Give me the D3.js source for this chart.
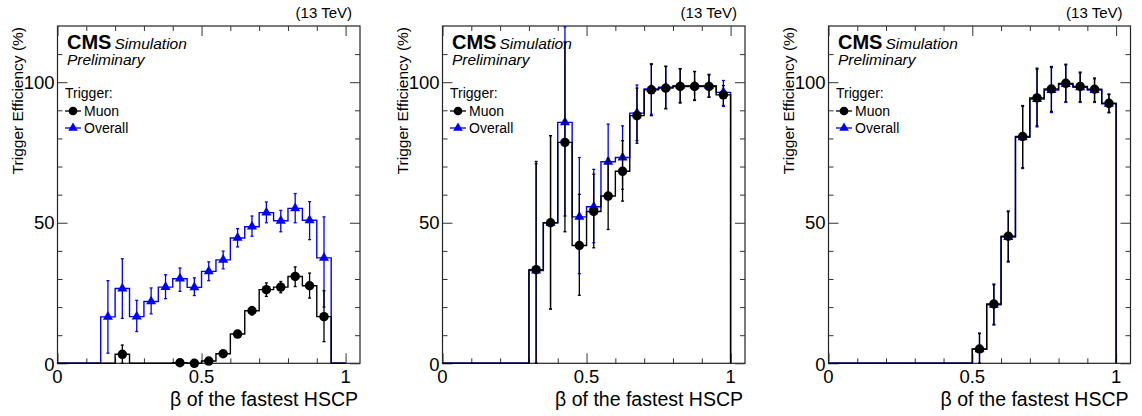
<!DOCTYPE html>
<html>
<head>
<meta charset="utf-8">
<script src="https://cdn.jsdelivr.net/npm/d3@7"></script>
<style>
  body { margin: 0; background: #fff; }
  text { font-family: "Liberation Sans", Arial, Helvetica, sans-serif; }
</style>
</head>
<body>
<script>
// bin edges (width 0.05) and centres
var binEdges = [0, 0.05, 0.1, 0.15, 0.2, 0.25, 0.3, 0.35, 0.4, 0.45, 0.5,
                0.55, 0.6, 0.65, 0.7, 0.75, 0.8, 0.85, 0.9, 0.95, 1.0];
var binCenters = [0.025, 0.075, 0.125, 0.175, 0.225, 0.275, 0.325, 0.375, 0.425, 0.475,
                  0.525, 0.575, 0.625, 0.675, 0.725, 0.775, 0.825, 0.875, 0.925, 0.975];

var xTicksMajor = [0, 0.5, 1];
var yTicksMajor = [0, 50, 100];

// panel 1
var muon1     = [null, null, null, null, 3.2, null, null, null, 0.2, 0, 0.8, 3.4, 10.4, 18.7, 26.2, 27.1, 30.9, 27.6, 16.6, null];
var muon1Up   = [0, 0, 0, 0, 3.3, 0, 0, 0, 0.5, 0.4, 0.8, 1.0, 1.2, 1.5, 2.4, 2.0, 3.4, 4.5, 9.2, 0];
var muon1Dn   = [0, 0, 0, 0, 3.2, 0, 0, 0, 0.2, 0, 0.8, 1.0, 1.2, 1.5, 2.4, 2.0, 3.6, 4.4, 8.9, 0];
var overall1  = [null, null, null, 16.5, 26.6, 16.6, 22, 27.1, 30.1, 27, 32.7, 36.8, 44.6, 48.6, 53.6, 50.7, 55.1, 50.9, 37.5, null];
var overall1Up = [0, 0, 0, 12.9, 10.6, 5.8, 4.8, 4.4, 3.8, 3.4, 3.4, 3.1, 3.3, 3.8, 3.8, 3.7, 5.3, 6.6, 14.6, 0];
var overall1Dn = [0, 0, 0, 12.9, 10.6, 5.3, 4.4, 4.1, 4.5, 2.9, 3.3, 3.2, 3.2, 3.4, 3.6, 3.9, 5.1, 6.9, 17.5, 0];

// panel 2
var muon2     = [null, null, null, null, null, null, 33.3, 50, 78.6, 41.9, 54, 59.5, 68.3, 88.1, 97.3, 97.9, 98.5, 98.5, 98.5, 95.5];
var muon2Up   = [0, 0, 0, 0, 0, 0, 38.5, 31, 35.7, 18.2, 13.3, 13.4, 10.9, 9.8, 9.0, 7.7, 6.3, 5.3, 4.1, 3.3];
var muon2Dn   = [0, 0, 0, 0, 0, 0, 33.3, 30.7, 31.8, 17.7, 12.9, 11.9, 10.6, 9.8, 9.2, 7.4, 5.9, 5.0, 3.9, 3.8];
var overall2  = [null, null, null, null, null, null, 33, 50, 85.7, 52.1, 55.7, 71.7, 73.2, 89, 97.6, 98.2, 98.8, 98.8, 98.8, 96.4];
var overall2Up = [0, 0, 0, 0, 0, 0, 38, 31, 34, 21.1, 13.3, 13.4, 11.3, 10, 9, 7.5, 6, 5, 4, 4.2];
var overall2Dn = [0, 0, 0, 0, 0, 0, 33, 30.7, 33.3, 20.2, 12.8, 12.2, 11.3, 9.8, 9, 7.5, 6, 5, 4, 5];

// panel 3
var muon3     = [null, null, null, null, null, null, null, null, null, null, 5.1, 21.1, 45.2, 80.7, 94.4, 97.6, 99.6, 98.5, 97.5, 92.5];
var muon3Up   = [0, 0, 0, 0, 0, 0, 0, 0, 0, 0, 5.6, 7.1, 9.0, 11.0, 10.6, 8.0, 6.8, 5.1, 4.0, 3.3];
var muon3Dn   = [0, 0, 0, 0, 0, 0, 0, 0, 0, 0, 5.1, 7.2, 8.9, 11.1, 9.9, 8.0, 6.5, 5.4, 4.4, 3.2];
var overall3  = [null, null, null, null, null, null, null, null, null, null, 5.0, 20.8, 44.9, 80.4, 94.0, 97.2, 99.3, 98.2, 97.2, 92.3];
var overall3Up = muon3Up;
var overall3Dn = muon3Dn;

var panels = [
  { left: 57.5,  right: 360,   muon: muon1, muonUp: muon1Up, muonDn: muon1Dn, all: overall1, allUp: overall1Up, allDn: overall1Dn },
  { left: 442.5, right: 745,   muon: muon2, muonUp: muon2Up, muonDn: muon2Dn, all: overall2, allUp: overall2Up, allDn: overall2Dn },
  { left: 828.5, right: 1130.5, muon: muon3, muonUp: muon3Up, muonDn: muon3Dn, all: overall3, allUp: overall3Up, allDn: overall3Dn }
];

var frameTop = 26, frameBottom = 363.3;
var blue = "#0000ff";

var svg = d3.select("body").append("svg")
            .attr("width", 1142)
            .attr("height", 416);

panels.forEach(function(p, pi) {
  var x = d3.scaleLinear().domain([0, 1.05]).range([p.left, p.right]);
  var y = d3.scaleLinear().domain([0, 120]).range([frameBottom, frameTop]);
  var g = svg.append("g");

  // frame
  g.append("rect")
   .attr("x", p.left).attr("y", frameTop)
   .attr("width", p.right - p.left).attr("height", frameBottom - frameTop)
   .style("fill", "none").style("stroke", "#222").style("stroke-width", 1.2);

  // ticks, drawn inside the frame (ROOT style)
  var xMinor = [0.1, 0.2, 0.3, 0.4, 0.6, 0.7, 0.8, 0.9];
  var yMinor = [10, 20, 30, 40, 60, 70, 80, 90, 110];

  function tickAxis(axis, tr, values, size) {
    var a = g.append("g").attr("transform", tr)
             .call(axis.tickValues(values).tickSize(size).tickFormat(""));
    a.select(".domain").remove();
    a.selectAll("line").style("stroke", "#333");
  }
  tickAxis(d3.axisBottom(x), "translate(0," + frameBottom + ")", xMinor, -5);
  tickAxis(d3.axisBottom(x), "translate(0," + frameBottom + ")", xTicksMajor, -10);
  tickAxis(d3.axisTop(x), "translate(0," + frameTop + ")", xMinor, -5);
  tickAxis(d3.axisTop(x), "translate(0," + frameTop + ")", xTicksMajor, -10);
  tickAxis(d3.axisLeft(y), "translate(" + p.left + ",0)", yMinor, -5);
  tickAxis(d3.axisLeft(y), "translate(" + p.left + ",0)", yTicksMajor, -10);
  tickAxis(d3.axisRight(y), "translate(" + p.right + ",0)", yMinor, -5);
  tickAxis(d3.axisRight(y), "translate(" + p.right + ",0)", yTicksMajor, -10);

  // tick labels
  g.selectAll(".xl").data(xTicksMajor).enter().append("text")
   .attr("x", function(d) { return x(d); })
   .attr("y", frameBottom + 20)
   .attr("text-anchor", "middle")
   .style("font-size", "18.5px")
   .text(function(d) { return d3.format("~g")(d); });
  g.selectAll(".yl").data(yTicksMajor).enter().append("text")
   .attr("x", p.left - 3)
   .attr("y", function(d) { return y(d) + (d === 0 ? 8 : 6.5); })
   .attr("text-anchor", "end")
   .style("font-size", "18.5px")
   .text(function(d) { return d; });

  // axis titles
  g.append("text")
   .attr("x", p.right - 2).attr("y", 406)
   .attr("text-anchor", "end")
   .style("font-size", "19.5px")
   .text("\u03b2 of the fastest HSCP");
  g.append("text")
   .attr("transform", "translate(" + (p.left - 35) + "," + (frameTop + 1) + ") rotate(-90)")
   .attr("text-anchor", "end")
   .style("font-size", "15.5px")
   .text("Trigger Efficiency (%)");

  g.append("text")
   .attr("x", p.right - 8).attr("y", 18)
   .attr("text-anchor", "end")
   .style("font-size", "15px")
   .text("(13 TeV)");

  // CMS label
  var cms = g.append("text").attr("x", p.left + 9.5).attr("y", frameTop + 23);
  cms.append("tspan").style("font-size", "20px").style("font-weight", "bold").text("CMS");
  cms.append("tspan").attr("dx", 3).style("font-size", "15.5px").style("font-style", "italic").text("Simulation");
  g.append("text")
   .attr("x", p.left + 9.5).attr("y", frameTop + 39)
   .style("font-size", "15.5px").style("font-style", "italic")
   .text("Preliminary");

  // histogram step + error bars + markers
  function drawSeries(vals, up, dn, color, marker) {
    var pts = binEdges.slice(0, 20).map(function(e, i) { return [e, vals[i] === null ? 0 : vals[i]]; });
    pts.push([binEdges[20], pts[19][1]]);
    pts.push([binEdges[20], 0]);
    var line = d3.line()
                 .x(function(d) { return x(d[0]); })
                 .y(function(d) { return y(d[1]); })
                 .curve(d3.curveStepAfter);
    g.append("path").attr("d", line(pts))
     .style("fill", "none").style("stroke", color).style("stroke-width", 1.4);

    var idx = d3.range(20).filter(function(i) { return vals[i] !== null; });
    idx.forEach(function(i) {
      var cx = x(binCenters[i]);
      var y1 = y(Math.min(120, vals[i] + up[i])), y2 = y(Math.max(0, vals[i] - dn[i]));
      g.append("line").attr("x1", cx).attr("x2", cx).attr("y1", y1).attr("y2", y2)
       .style("stroke", color).style("stroke-width", 1.3);
      [y1, y2].forEach(function(yy) {
        g.append("line").attr("x1", cx - 1.5).attr("x2", cx + 1.5).attr("y1", yy).attr("y2", yy)
         .style("stroke", color).style("stroke-width", 1.3);
      });
    });
    g.selectAll(null).data(idx).enter().append("path")
     .attr("d", d3.symbol().type(marker).size(marker === d3.symbolCircle ? 70 : 44))
     .attr("transform", function(i) { return "translate(" + x(binCenters[i]) + "," + y(vals[i]) + ")"; })
     .style("fill", color);
  }
  drawSeries(p.all, p.allUp, p.allDn, blue, d3.symbolTriangle);
  drawSeries(p.muon, p.muonUp, p.muonDn, "#000", d3.symbolCircle);

  // legend
  var lx = p.left + 7.5;
  g.append("text").attr("x", lx).attr("y", 98).style("font-size", "14px").text("Trigger:");
  var items = [["Muon", "#000", d3.symbolCircle, 111], ["Overall", blue, d3.symbolTriangle, 128]];
  items.forEach(function(it) {
    g.append("line").attr("x1", lx).attr("x2", lx + 16).attr("y1", it[3]).attr("y2", it[3])
     .style("stroke", it[1]).style("stroke-width", 1.3);
    g.append("path").attr("d", d3.symbol().type(it[2]).size(it[2] === d3.symbolCircle ? 60 : 40))
     .attr("transform", "translate(" + (lx + 8) + "," + it[3] + ")")
     .style("fill", it[1]);
    g.append("text").attr("x", lx + 19).attr("y", it[3] + 5).style("font-size", "14px").text(it[0]);
  });
});
</script>
</body>
</html>
